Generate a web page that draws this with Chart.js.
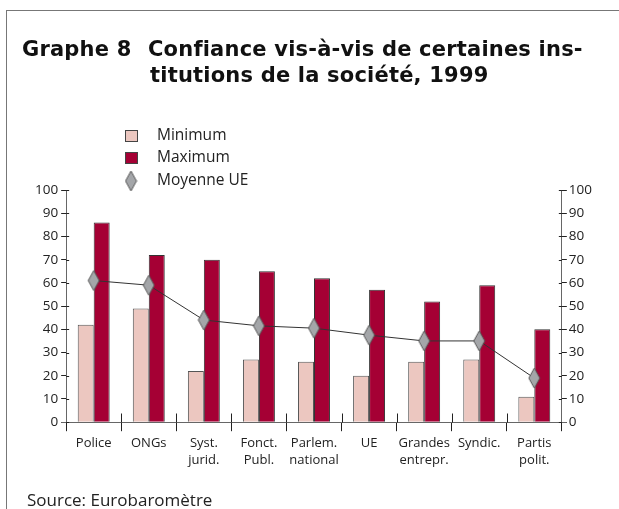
<!DOCTYPE html>
<html>
<head>
<meta charset="utf-8">
<script src="https://cdn.jsdelivr.net/npm/chart.js@4/dist/chart.umd.min.js"></script>
<style>
  html, body { margin: 0; padding: 0; background: #fff; }
  #wrap { position: relative; width: 619px; height: 509px; overflow: hidden; font-family: "Open Sans", sans-serif; }
  #frame { position: absolute; left: 6px; top: 10px; width: 620px; height: 520px; border-left: 1px solid #777; border-top: 1px solid #777; }
  #title { position: absolute; left: 22px; top: 36px; font-family: "DejaVu Sans", sans-serif; font-weight: bold; font-size: 21px; letter-spacing: 0.2px; line-height: 26px; color: #111; white-space: nowrap; }
  #title .num { display: inline-block; width: 126px; }
  #title .l2 { padding-left: 128px; }
  #source { position: absolute; left: 27px; top: 489px; font-size: 17px; line-height: 22px; color: #222; }
  #c { position: absolute; left: 0; top: 0; }
</style>
</head>
<body>
<div id="wrap">
  <div id="frame"></div>
  <canvas id="c" width="619" height="509"></canvas>
  <div id="title"><span class="num">Graphe 8</span>Confiance vis-à-vis de certaines ins-<div class="l2">titutions de la société, 1999</div></div>
  <div id="source">Source: Eurobaromètre</div>
</div>
<script>
var categories = [
  "Police", "ONGs", ["Syst.", "jurid."], ["Fonct.", "Publ."], ["Parlem.", "national"],
  "UE", ["Grandes", "entrepr."], "Syndic.", ["Partis", "polit."]
];
var minimum = [42, 49, 22, 27, 26, 20, 26, 27, 11];
var maximum = [86, 72, 70, 65, 62, 57, 52, 59, 40];
var moyenneUE = [61, 59, 44, 41.5, 40.5, 37.5, 35, 35, 19];
var yTicks = [0, 10, 20, 30, 40, 50, 60, 70, 80, 90, 100];

var MIN_COLOR = "#ecc7c0";
var MAX_COLOR = "#a50034";
var DIAMOND_COLOR = "#a4a6a9";

// tall grey diamond used for the average markers
function makeDiamond(w, h) {
  var cv = document.createElement("canvas");
  cv.width = w + 2;
  cv.height = h + 2;
  var g = cv.getContext("2d");
  g.beginPath();
  g.moveTo(cv.width / 2, 1);
  g.lineTo(cv.width - 1, cv.height / 2);
  g.lineTo(cv.width / 2, cv.height - 1);
  g.lineTo(1, cv.height / 2);
  g.closePath();
  g.fillStyle = DIAMOND_COLOR;
  g.fill();
  g.strokeStyle = "#555";
  g.lineWidth = 1;
  g.stroke();
  return cv;
}
var diamond = makeDiamond(11, 20);

// legend drawn as a vertical list above the plot
var legendPlugin = {
  id: "vlegend",
  afterDraw: function (chart) {
    var ctx = chart.ctx;
    var rows = [
      { label: "Minimum", kind: "box", color: MIN_COLOR, y: 136 },
      { label: "Maximum", kind: "box", color: MAX_COLOR, y: 158 },
      { label: "Moyenne UE", kind: "diamond", y: 181 }
    ];
    ctx.save();
    ctx.font = "15.5px 'Open Sans'";
    ctx.textBaseline = "middle";
    rows.forEach(function (r) {
      if (r.kind === "box") {
        ctx.fillStyle = r.color;
        ctx.fillRect(125, r.y - 6, 13, 12);
        ctx.strokeStyle = "#444";
        ctx.lineWidth = 1;
        ctx.strokeRect(125.5, r.y - 5.5, 12, 11);
      } else {
        ctx.drawImage(diamond, 131 - diamond.width / 2, r.y - diamond.height / 2);
      }
      ctx.fillStyle = "#222";
      ctx.fillText(r.label, 157, r.y);
    });
    ctx.restore();
  }
};

// axis details: separators crossing the x axis, y ticks poking inside, x axis overhang
var axisPlugin = {
  id: "axisDetails",
  afterDatasetsDraw: function (chart) {
    var x = chart.scales.x, ctx = chart.ctx, a = chart.chartArea;
    var y0 = Math.round(a.bottom) + 0.5;
    ctx.save();
    ctx.lineWidth = 1;
    ctx.strokeStyle = "#666";
    ctx.beginPath();
    ctx.moveTo(a.left - 5, y0);
    ctx.lineTo(a.right + 5, y0);
    ctx.stroke();
    ctx.strokeStyle = "#222";
    for (var i = 1; i < categories.length; i++) {
      var px = Math.round((x.getPixelForValue(i - 1) + x.getPixelForValue(i)) / 2) + 0.5;
      ctx.beginPath();
      ctx.moveTo(px, y0 - 9);
      ctx.lineTo(px, y0);
      ctx.stroke();
    }
    yTicks.forEach(function (v) {
      var py = Math.round(chart.scales.y.getPixelForValue(v)) + 0.5;
      ctx.beginPath();
      ctx.moveTo(a.left, py);
      ctx.lineTo(a.left + 3, py);
      ctx.moveTo(a.right - 3, py);
      ctx.lineTo(a.right, py);
      ctx.stroke();
    });
    ctx.restore();
  }
};

Chart.defaults.font.family = "'Open Sans'";
Chart.defaults.font.size = 13;
Chart.defaults.color = "#222";

new Chart(document.getElementById("c").getContext("2d"), {
  type: "bar",
  data: {
    labels: categories,
    datasets: [
      {
        type: "line",
        label: "Moyenne UE",
        data: moyenneUE,
        borderColor: "#333",
        borderWidth: 1,
        pointStyle: diamond,
        pointRadius: 10,
        fill: false,
        tension: 0,
        order: 0
      },
      {
        label: "Minimum",
        data: minimum,
        backgroundColor: MIN_COLOR,
        borderColor: "#555",
        borderWidth: 1,
        borderSkipped: "bottom",
        order: 1
      },
      {
        label: "Maximum",
        data: maximum,
        backgroundColor: MAX_COLOR,
        borderColor: "#333",
        borderWidth: 1,
        borderSkipped: "bottom",
        order: 1
      }
    ]
  },
  options: {
    responsive: false,
    animation: false,
    datasets: { bar: { barPercentage: 1, categoryPercentage: 0.58 } },
    layout: { padding: { top: 190, left: 32, right: 25, bottom: 36 } },
    plugins: { legend: { display: false }, title: { display: false }, tooltip: { enabled: false } },
    scales: {
      x: {
        offset: true,
        grid: { offset: true, drawOnChartArea: false, tickLength: 9, color: "#222" },
        border: { color: "#666", width: 1 },
        ticks: { maxRotation: 0, autoSkip: false, padding: 4, font: { lineHeight: 1.3 } }
      },
      y: {
        position: "left",
        min: 0,
        max: 100,
        afterBuildTicks: function (s) { s.ticks = yTicks.map(function (v) { return { value: v }; }); },
        grid: { drawOnChartArea: false, tickLength: 5, color: "#222" },
        border: { color: "#666", width: 1 },
        ticks: { padding: 3, font: { size: 13.5 } }
      },
      y2: {
        position: "right",
        min: 0,
        max: 100,
        afterBuildTicks: function (s) { s.ticks = yTicks.map(function (v) { return { value: v }; }); },
        grid: { drawOnChartArea: false, tickLength: 5, color: "#222" },
        border: { color: "#666", width: 1 },
        ticks: { padding: 2, font: { size: 13.5 } }
      }
    }
  },
  plugins: [legendPlugin, axisPlugin]
});
</script>
</body>
</html>
